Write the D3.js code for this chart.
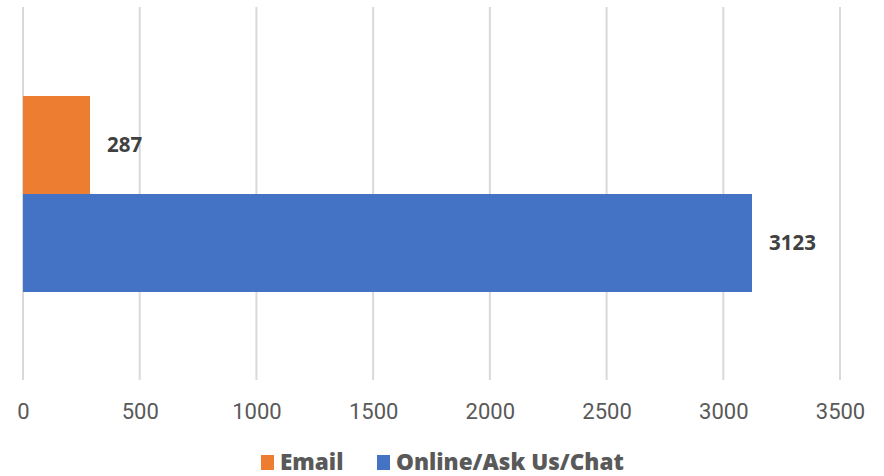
<!DOCTYPE html>
<html><head><meta charset="utf-8">
<script src="https://cdn.jsdelivr.net/npm/d3@7"></script>
<style>body{margin:0;background:#fff}svg{display:block}</style>
</head><body><svg id="c" width="884" height="476"></svg>
<script>
const seriesNames = ["Email", "Online/Ask Us/Chat"];
const seriesValues = [287, 3123];
const seriesColors = ["#ED7D31", "#4472C4"];
const tickValues = [0, 500, 1000, 1500, 2000, 2500, 3000, 3500];

const svg = d3.select("#c");
const x = d3.scaleLinear().domain([0, 3500]).range([23, 840]);
const y = d3.scaleBand().domain(seriesNames).range([96, 292]).padding(0);

// gridlines
svg.append("g").selectAll("line").data(tickValues).join("line")
  .attr("x1", d => x(d)).attr("x2", d => x(d))
  .attr("y1", 7).attr("y2", 380)
  .attr("stroke", "#d9d9d9").attr("stroke-width", 2);

// axis labels
const ax = svg.append("g").attr("transform", "translate(0,380)")
  .call(d3.axisBottom(x).tickValues(tickValues).tickSize(0).tickPadding(0).tickFormat(d3.format("d")));
ax.select(".domain").remove();
ax.selectAll("text").attr("y", 39).attr("dy", null)
  .attr("font-family", "Roboto, sans-serif").attr("font-size", 22).attr("fill", "#595959");

// bars
svg.append("g").selectAll("rect").data(seriesNames).join("rect")
  .attr("x", x(0)).attr("y", d => y(d))
  .attr("width", (d, i) => x(seriesValues[i]) - x(0))
  .attr("height", y.bandwidth())
  .attr("fill", (d, i) => seriesColors[i]);

// value labels
svg.append("g").selectAll("text").data(seriesNames).join("text")
  .attr("x", (d, i) => x(seriesValues[i]) + 17)
  .attr("y", d => y(d) + y.bandwidth() / 2 + 7)
  .attr("font-family", "'Open Sans', sans-serif").attr("font-weight", "bold")
  .attr("font-size", 20.5).attr("fill", "#404040")
  .text((d, i) => seriesValues[i]);

// legend
const legX = [261, 377];
const lg = svg.append("g").selectAll("g").data(seriesNames).join("g")
  .attr("transform", (d, i) => `translate(${legX[i]},0)`);
lg.append("rect").attr("x", 0).attr("y", 455).attr("width", 13).attr("height", 15)
  .attr("fill", (d, i) => seriesColors[i]);
lg.append("text").attr("x", 19).attr("y", 470)
  .attr("font-family", "'Open Sans', sans-serif").attr("font-weight", 800)
  .attr("font-size", 22.5).attr("fill", "#595959").text(d => d);
</script></body></html>
